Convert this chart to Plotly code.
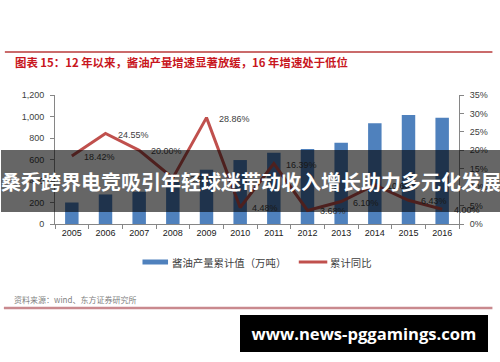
import plotly.graph_objects as go

# ---------------- data ----------------
years = ["2005", "2006", "2007", "2008", "2009", "2010",
         "2011", "2012", "2013", "2014", "2015", "2016"]
production = [200, 275, 300, 395, 505, 595, 663, 698, 756, 937, 1014, 989]   # 万吨
growth = [18.42, 24.55, 20.00, 12.50, 28.86, 4.48, 16.39, 3.68, 6.10, 10.60, 6.43, 4.00]  # %
bar_name = "酱油产量累计值（万吨）"
line_name = "累计同比"
title_text = "图表 15：12 年以来，酱油产量增速显著放缓，16 年增速处于低位"
source_text = "资料来源：wind、东方证券研究所"
banner_text = "桑乔跨界电竞吸引年轻球迷带动收入增长助力多元化发展"
watermark_text = "www.news-pggamings.com"

# ---------------- layout geometry ----------------
W, H = 500, 362
L, R, T, B = 55, 466, 95, 224          # plot area in pixels
PW, PH = R - L, B - T


def px(x):
    return (x - L) / PW


def py(y):
    return (B - y) / PH


BAR_C = "#4F81BD"
LINE_C = "#C0504D"
TXT_C = "#404040"
AX_C = "#868686"
CJK = "Noto Sans CJK SC"
LAT = "Liberation Sans"

fig = go.Figure()
fig.add_trace(go.Bar(x=years, y=production, name=bar_name, marker_color=BAR_C,
                     marker_line_width=0, yaxis="y", showlegend=False))
fig.add_trace(go.Scatter(x=years, y=growth, name=line_name, mode="lines",
                         line=dict(color=LINE_C, width=3), yaxis="y2",
                         showlegend=False))

annotations = []
# data labels for the line (category index positions)
for i, g in enumerate(growth):
    annotations.append(dict(x=i, y=g, xref="x", yref="y2", text=f"{g:.2f}%",
                            showarrow=False, xanchor="left", yanchor="middle",
                            xshift=10, yshift=-1,
                            font=dict(family=LAT, size=9, color=TXT_C)))

# title
annotations.append(dict(x=px(12), y=py(62), xref="paper", yref="paper",
                        text=f"<b>{title_text}</b>", showarrow=False,
                        xanchor="left", yanchor="middle",
                        font=dict(family=CJK, size=11.4, color="#C8161D")))
# legend texts
annotations.append(dict(x=px(172), y=py(262), xref="paper", yref="paper",
                        text=bar_name, showarrow=False, xanchor="left",
                        yanchor="middle", font=dict(family=CJK, size=10.4, color=TXT_C)))
annotations.append(dict(x=px(333), y=py(262), xref="paper", yref="paper",
                        text=line_name, showarrow=False, xanchor="left",
                        yanchor="middle", font=dict(family=CJK, size=10.4, color=TXT_C)))
# source
annotations.append(dict(x=px(11), y=py(299), xref="paper", yref="paper",
                        text=source_text, showarrow=False, xanchor="left",
                        yanchor="middle", font=dict(family=CJK, size=8, color="#7F7F7F")))
# overlay banner (drawn above everything else)
annotations.append(dict(x=px(0), y=py(150), xref="paper", yref="paper",
                        text=f"<b>{banner_text}</b>", showarrow=False,
                        xanchor="left", yanchor="top", width=500, height=62,
                        align="center", valign="middle",
                        bgcolor="rgba(0,0,0,0.6)", borderpad=0, borderwidth=0,
                        font=dict(family=CJK, size=20, color="white")))
# watermark
annotations.append(dict(x=px(243), y=py(315), xref="paper", yref="paper",
                        text=f"<b>{watermark_text}</b>", showarrow=False,
                        xanchor="left", yanchor="top", width=248, height=37,
                        align="center", valign="middle",
                        bgcolor="black", borderpad=0, borderwidth=0,
                        font=dict(family="Open Sans", size=16.6, color="white")))

shapes = [
    # top red rule
    dict(type="line", xref="paper", yref="paper", x0=px(4), x1=px(500),
         y0=py(52), y1=py(52), line=dict(color="#B83A3A", width=1.5)),
    # bottom rule
    dict(type="line", xref="paper", yref="paper", x0=px(3), x1=px(500),
         y0=py(308), y1=py(308), line=dict(color="#C9898E", width=2.5)),
    # legend symbols
    dict(type="rect", xref="paper", yref="paper", x0=px(144), x1=px(170),
         y0=py(259.5), y1=py(264.5), fillcolor=BAR_C, line=dict(width=0)),
    dict(type="line", xref="paper", yref="paper", x0=px(303), x1=px(332),
         y0=py(262), y1=py(262), line=dict(color=LINE_C, width=3)),
]

fig.update_layout(
    width=W, height=H,
    margin=dict(l=L, r=W - R, t=T, b=H - B),
    paper_bgcolor="white", plot_bgcolor="white",
    bargap=0.6,
    showlegend=False,
    xaxis=dict(type="category", range=[-0.5, len(years) - 0.5],
               showline=True, linecolor=AX_C, linewidth=1,
               ticks="outside", tickson="boundaries", ticklen=4, tickcolor=AX_C,
               showgrid=False, tickangle=0,
               tickfont=dict(family=LAT, size=9, color="#202020")),
    yaxis=dict(range=[0, 1200], dtick=200, tickformat=",d", showline=True,
               linecolor=AX_C, linewidth=1, ticks="outside", ticklen=4,
               tickcolor=AX_C, showgrid=False, zeroline=False,
               ticklabelstandoff=4,
               tickfont=dict(family=LAT, size=9, color=TXT_C)),
    yaxis2=dict(range=[0, 35], dtick=5, ticksuffix="%", overlaying="y",
                side="right", showline=True, linecolor=AX_C, linewidth=1,
                ticks="outside", ticklen=4, tickcolor=AX_C, showgrid=False,
                zeroline=False, ticklabelstandoff=4,
                tickfont=dict(family=LAT, size=9, color=TXT_C)),
    annotations=annotations,
    shapes=shapes,
)

fig.write_html("out.html")
